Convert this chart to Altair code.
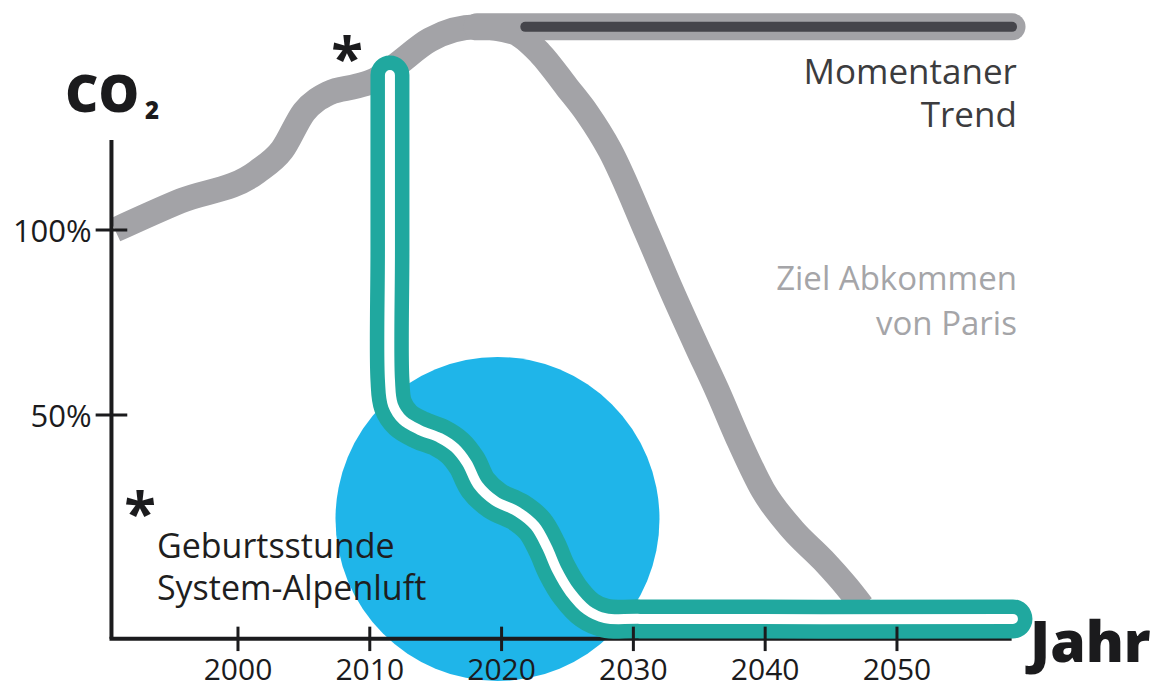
import altair as alt
import pandas as pd

# ---- data ----
paris_year = [1990.67, 1995.60, 2001.44, 2003.34, 2005.01, 2006.90, 2009.03, 2010.39,
              2011.91, 2014.57, 2018.13, 2020.87, 2022.91, 2024.96, 2026.48, 2028.22,
              2031.03, 2032.78, 2034.83, 2036.34, 2038.09, 2039.83, 2042.11, 2044.39,
              2046.21, 2047.34]
paris_pct = [100.0, 107.8, 115.7, 121.6, 131.9, 137.0, 138.9, 140.5,
             144.3, 151.4, 154.9, 153.5, 147.8, 138.6, 131.6, 121.6,
             99.2, 84.6, 68.4, 56.8, 42.4, 29.7, 18.9, 10.8,
             3.5, -1.6]

alp_year = [2011.53, 2011.53, 2011.53, 2011.76, 2012.52, 2013.81, 2015.33, 2016.46,
            2017.37, 2018.21, 2019.50, 2021.24, 2022.53, 2023.44, 2024.20, 2025.19,
            2026.48, 2027.85, 2030.50, 2058.80]
alp_pct = [141.9, 94.6, 59.5, 52.7, 48.6, 45.9, 43.8, 41.1,
           37.0, 31.1, 26.8, 23.8, 20.0, 14.3, 8.1, 2.2,
           -2.7, -4.9, -5.1, -5.1]

trend_year = [2018.13, 2058.73]
trend_core_year = [2021.8, 2058.73]
trend_pct = [154.9, 154.9]

circle_year = [2019.69]
circle_pct = [21.9]

x_ticks = [2000, 2010, 2020, 2030, 2040, 2050]
x_tick_labels = ["2000", "2010", "2020", "2030", "2040", "2050"]
y_ticks = [50, 100]
y_tick_labels = ["50%", "100%"]

# ---- scales ----
xs = alt.Scale(domain=[1982.55, 2069.35], nice=False, zero=False)
ys = alt.Scale(domain=[-24.05, 160.0], nice=False, zero=False)

GRAY = "#a3a3a7"
DARK = "#45454b"
TEAL = "#20a89f"
BLUE = "#1fb5e9"
INK = "#1b1b1d"
FONT = "Open Sans"


def X(f):
    return alt.X(f, scale=xs, axis=None)


def Y(f):
    return alt.Y(f, scale=ys, axis=None)


paris_df = pd.DataFrame({"year": paris_year, "pct": paris_pct})
alp_df = pd.DataFrame({"year": alp_year, "pct": alp_pct, "i": list(range(len(alp_year)))})
trend_df = pd.DataFrame({"year": trend_year, "pct": trend_pct})
trend_core_df = pd.DataFrame({"year": trend_core_year, "pct": trend_pct})
circle_df = pd.DataFrame({"year": circle_year, "pct": circle_pct})
xt_df = pd.DataFrame({"v": x_ticks, "label": x_tick_labels})
yt_df = pd.DataFrame({"v": y_ticks, "label": y_tick_labels})
one = pd.DataFrame({"a": [0]})

circle = alt.Chart(circle_df).mark_circle(size=104976, color=BLUE, opacity=1).encode(
    x=X("year:Q"), y=Y("pct:Q"))

paris = alt.Chart(paris_df).mark_line(color=GRAY, strokeWidth=25, strokeCap="butt",
                                      interpolate="monotone").encode(
    x=X("year:Q"), y=Y("pct:Q"))

trend_outer = alt.Chart(trend_df).mark_line(color=GRAY, strokeWidth=27, strokeCap="round").encode(
    x=X("year:Q"), y=Y("pct:Q"))
trend_core = alt.Chart(trend_core_df).mark_line(color=DARK, strokeWidth=10, strokeCap="round").encode(
    x=X("year:Q"), y=Y("pct:Q"))

alp_outer = alt.Chart(alp_df).mark_line(color=TEAL, strokeWidth=39, strokeCap="round",
                                        strokeJoin="round", interpolate="catmull-rom").encode(
    x=X("year:Q"), y=Y("pct:Q"), order="i:Q")
alp_inner = alt.Chart(alp_df).mark_line(color="white", strokeWidth=10, strokeCap="round",
                                        strokeJoin="round", interpolate="catmull-rom").encode(
    x=X("year:Q"), y=Y("pct:Q"), order="i:Q")

# axes drawn as rules
y_axis = alt.Chart(one).mark_rule(color=INK, strokeWidth=4).encode(
    x=alt.datum(1990.4, scale=xs, axis=None), y=alt.datum(-10.5, scale=ys, axis=None), y2=alt.datum(124.3))
x_axis = alt.Chart(one).mark_rule(color=INK, strokeWidth=4).encode(
    y=alt.datum(-10.5, scale=ys, axis=None), x=alt.datum(1990.25, scale=xs, axis=None), x2=alt.datum(2058.7))
x_tick_marks = alt.Chart(xt_df).mark_rule(color=INK, strokeWidth=3).encode(
    x=X("v:Q"), y=alt.datum(-13.8, scale=ys, axis=None), y2=alt.datum(-7.2))
y_tick_marks = alt.Chart(yt_df).mark_rule(color=INK, strokeWidth=3).encode(
    y=Y("v:Q"), x=alt.datum(1989.2, scale=xs, axis=None), x2=alt.datum(1991.6))

x_labels = alt.Chart(xt_df).mark_text(font=FONT, fontSize=30, color=INK, align="center",
                                      baseline="alphabetic").encode(
    x=X("v:Q"), y=alt.datum(-21.6, scale=ys, axis=None), text="label:N")
y_labels = alt.Chart(yt_df).mark_text(font=FONT, fontSize=31, color=INK, align="right",
                                      baseline="middle", dy=3).encode(
    x=alt.datum(1988.9, scale=xs, axis=None), y=Y("v:Q"), text="label:N")


def label(txt, x, y, size, color, align="left", weight="normal", baseline="alphabetic"):
    return alt.Chart(one).mark_text(font=FONT, fontSize=size, color=color, align=align,
                                    baseline=baseline, fontWeight=weight).encode(
        x=alt.datum(x, scale=xs, axis=None), y=alt.datum(y, scale=ys, axis=None),
        text=alt.value(txt))


texts = [
    label("Momentaner", 2059.1, 142.4, 35, "#3c3c3e", align="right", baseline="middle"),
    label("Trend", 2059.1, 130.8, 35, "#3c3c3e", align="right", baseline="middle"),
    label("Ziel Abkommen", 2059.1, 86.5, 33, "#a5a5a8", align="right", baseline="middle"),
    label("von Paris", 2059.1, 74.3, 33, "#a5a5a8", align="right", baseline="middle"),
    label("Geburtsstunde", 1993.85, 14.1, 34, "#1e1e20", baseline="middle"),
    label("System-Alpenluft", 1993.85, 2.7, 34, "#1e1e20", baseline="middle"),
    label("*", 2008.27, 140.8, 58, INK, align="center", weight="bold"),
    label("*", 1992.56, 17.8, 58, INK, align="center", weight="bold"),
    label("CO", 1986.9, 131.9, 51, INK, weight=800),
    label("2", 1992.95, 130.0, 24, INK, weight=800),
    label("Jahr", 2060.1, -16.8, 57, INK, weight=800),
]

chart = alt.layer(
    circle, paris, trend_outer, trend_core, x_axis, y_axis,
    alp_outer, alp_inner, x_tick_marks, y_tick_marks, x_labels, y_labels, *texts
).properties(
    width=1144, height=681,
    autosize=alt.AutoSizeParams(type="none"),
    padding=0,
    background="white",
).configure_view(stroke=None)

chart.save("out.html", embed_options={"renderer": "svg", "actions": False})
